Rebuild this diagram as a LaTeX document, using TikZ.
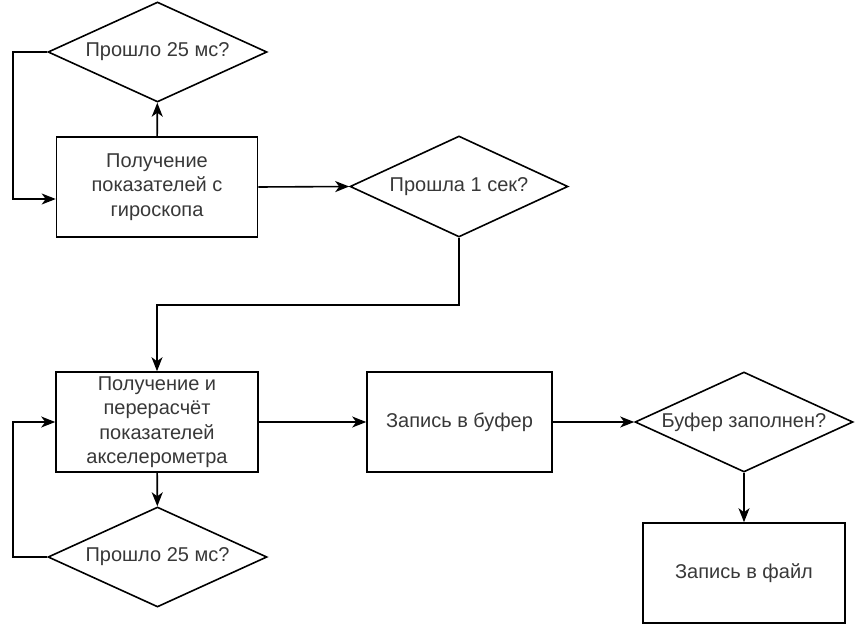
\documentclass[tikz,border=0pt]{standalone}
\usepackage{fontspec}
\setmainfont{Liberation Sans}
\usetikzlibrary{shapes.geometric,arrows.meta}

\begin{document}
\begin{tikzpicture}[x=1pt, y=-1pt,
  every node/.style={font=\fontsize{20}{24.5}\selectfont, text=black!78},
  procbox/.style={rectangle, draw=black, line width=1.6pt, align=center, inner sep=0pt},
  checkbox/.style={diamond, draw=black, line width=1.6pt, align=center, inner sep=0pt, shape aspect=2.19, minimum width=219pt, minimum height=100pt},
  flow/.style={line width=1.6pt, -{Stealth[length=14pt,width=11pt,inset=4pt]}}]
  \useasboundingbox (0,0) rectangle (856,626);

  % gyroscope loop
  \node[checkbox] (GyroWait) at (157.5,52) {Прошло 25 мс?};
  \node[procbox, minimum width=201pt, minimum height=100pt] (GyroRead) at (157,187) {Получение\\показателей с\\гироскопа};
  \node[checkbox, minimum width=218pt, minimum height=101pt] (SecCheck) at (459,186.5) {Прошла 1 сек?};
  \path[flow]
  (GyroRead) edge (GyroWait)
  (GyroRead.east) edge (SecCheck.west);
  \draw[flow] (GyroWait.west) -- ++(-34,0) |- ([yshift=-12pt]GyroRead.west);

  % accelerometer loop
  \node[procbox, minimum width=202pt, minimum height=100pt] (AccelRead) at (157,422) {Получение и\\перерасчёт\\показателей\\акселерометра};
  \node[checkbox] (AccelWait) at (157.5,557) {Прошло 25 мс?};
  \draw[flow] (SecCheck.south) -- ++(0,67) -| (AccelRead.north);
  \path[flow] (AccelRead) edge (AccelWait);
  \draw[flow] (AccelWait.west) -- ++(-34,0) |- (AccelRead.west);

  % buffer and file
  \node[procbox, minimum width=185pt, minimum height=100pt] (BufWrite) at (459.5,422) {Запись в буфер};
  \node[checkbox, minimum width=218pt] (BufFull) at (744,422) {Буфер заполнен?};
  \node[procbox, minimum width=202pt, minimum height=100pt] (FileWrite) at (744,573) {Запись в файл};
  \path[flow]
  (AccelRead.east) edge (BufWrite.west)
  (BufWrite.east) edge (BufFull.west)
  (BufFull.south) edge (FileWrite.north);
\end{tikzpicture}
\end{document}
